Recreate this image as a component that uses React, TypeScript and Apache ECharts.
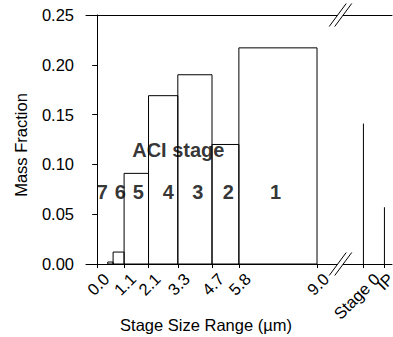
import React, { useEffect, useRef } from "react";
import * as echarts from "echarts";

// ACI impactor stages: cut-size range (µm) and collected mass fraction
const stageNames = ["7", "6", "5", "4", "3", "2", "1"];
const stageLower = [0.43, 0.65, 1.1, 2.1, 3.3, 4.7, 5.8];
const stageUpper = [0.65, 1.1, 2.1, 3.3, 4.7, 5.8, 9.0];
const stageMass = [0.002, 0.012, 0.091, 0.169, 0.19, 0.12, 0.217];

// cut-size tick marks on the size axis
const cutTicks = [0.0, 1.1, 2.1, 3.3, 4.7, 5.8, 9.0];

// collectors beyond the axis break (no size range)
const extraNames = ["Stage 0", "IP"];
const extraMass = [0.141, 0.057];

// layout: where things sit on the size axis
const X_MIN = -0.46;
const X_MAX = 12.07;
const BREAK_AT = 9.95;
const extraSlots = [10.9, 11.76];
const cutLabelNudge = 0.12;
const extraLabelNudge = [0.3, 0.0];
const stageLabelX = [0.21, 0.94, 1.68, 2.91, 4.12, 5.37, 7.3];
const stageLabelY = 0.0726;
const headerPos = [3.32, 0.114];

const FONT = "'Liberation Sans', Arial, sans-serif";
const AXIS_FONT = 16.5;

export default function App() {
  const ref = useRef<HTMLDivElement | null>(null);

  useEffect(() => {
    document.body.style.margin = "0";
    if (!ref.current) return;
    const chart = echarts.init(ref.current, undefined, { renderer: "svg" });

    // bottom axis with ticks at `ticks`; labels drawn slightly up-along the slant
    const bottomAxis = (
      ticks: number[],
      nudge: number,
      texts: string[],
      withLine: boolean
    ) => {
      const labelAt = ticks.map((t) => t + nudge);
      return {
        type: "value",
        min: X_MIN,
        max: X_MAX,
        position: "bottom",
        splitLine: { show: false },
        axisLine: { show: withLine, onZero: false, lineStyle: { color: "#000", width: 1 } },
        axisTick: {
          show: true,
          length: 4,
          inside: false,
          customValues: ticks,
          lineStyle: { color: "#000" },
        },
        axisLabel: {
          show: true,
          rotate: 45,
          margin: 6,
          align: "right",
          verticalAlign: "top",
          hideOverlap: false,
          fontSize: AXIS_FONT,
          color: "#000",
          fontFamily: FONT,
          customValues: labelAt,
          formatter: (v: number) => {
            const k = labelAt.findIndex((s) => Math.abs(s - v) < 1e-6);
            return k >= 0 ? texts[k] : "";
          },
        },
      };
    };

    const option: any = {
      animation: false,
      textStyle: { fontFamily: FONT, color: "#000" },
      grid: {
        left: 86,
        top: 15,
        right: 1,
        bottom: 73,
        containLabel: false,
        outerBoundsMode: "none",
      },
      xAxis: [
        bottomAxis(cutTicks, cutLabelNudge, cutTicks.map((t) => t.toFixed(1)), true),
        bottomAxis([extraSlots[0]], extraLabelNudge[0], [extraNames[0]], false),
        bottomAxis([extraSlots[1]], extraLabelNudge[1], [extraNames[1]], false),
        {
          type: "value",
          min: X_MIN,
          max: X_MAX,
          position: "top",
          splitLine: { show: false },
          axisLine: { show: true, onZero: false, lineStyle: { color: "#000", width: 1 } },
          axisTick: { show: false },
          axisLabel: { show: false },
        },
      ],
      yAxis: {
        type: "value",
        min: 0,
        max: 0.25,
        interval: 0.05,
        splitLine: { show: false },
        axisLine: { show: true, lineStyle: { color: "#000", width: 1 } },
        axisTick: { show: true, length: 5, lineStyle: { color: "#000" } },
        axisLabel: {
          fontSize: AXIS_FONT,
          margin: 12,
          color: "#000",
          fontFamily: FONT,
          formatter: (v: number) => v.toFixed(2),
        },
      },
      series: [
        {
          type: "custom",
          name: "ACI stages",
          silent: true,
          encode: { x: [0, 1], y: 2 },
          data: stageLower.map((lo, i) => [lo, stageUpper[i], stageMass[i]]),
          renderItem: (_params: any, api: any) => {
            const p0 = api.coord([api.value(0), api.value(2)]);
            const p1 = api.coord([api.value(1), 0]);
            return {
              type: "rect",
              shape: { x: p0[0], y: p0[1], width: p1[0] - p0[0], height: p1[1] - p0[1] },
              style: { fill: "none", stroke: "#000", lineWidth: 1 },
            };
          },
        },
        {
          type: "custom",
          name: "Other collectors",
          silent: true,
          encode: { x: 0, y: 1 },
          data: extraSlots.map((s, i) => [s, extraMass[i]]),
          renderItem: (_params: any, api: any) => {
            const top = api.coord([api.value(0), api.value(1)]);
            const base = api.coord([api.value(0), 0]);
            return {
              type: "line",
              shape: { x1: base[0], y1: base[1], x2: top[0], y2: top[1] },
              style: { stroke: "#000", lineWidth: 1 },
            };
          },
        },
        {
          type: "scatter",
          name: "Stage labels",
          silent: true,
          symbolSize: 1,
          itemStyle: { color: "transparent" },
          data: [
            ...stageLabelX.map((x, i) => ({ value: [x, stageLabelY], name: stageNames[i] })),
            { value: headerPos, name: "ACI stage" },
          ],
          label: {
            show: true,
            position: "inside",
            formatter: "{b}",
            fontSize: 20,
            fontWeight: "bold",
            color: "#000",
            fontFamily: FONT,
          },
        },
      ],
      graphic: [
        {
          type: "text",
          x: 21,
          y: 145,
          rotation: Math.PI / 2,
          style: {
            text: "Mass Fraction",
            fontSize: AXIS_FONT,
            fontFamily: FONT,
            fill: "#000",
            align: "center",
            verticalAlign: "middle",
          },
        },
        {
          type: "text",
          x: 206,
          y: 325,
          style: {
            text: "Stage Size Range (µm)",
            fontSize: AXIS_FONT,
            fontFamily: FONT,
            fill: "#000",
            align: "center",
            verticalAlign: "middle",
          },
        },
      ],
    };

    chart.setOption(option);

    // axis-break marks on the top and bottom frame lines
    const topPt = chart.convertToPixel({ gridIndex: 0 }, [BREAK_AT, 0.25]) as number[];
    const botPt = chart.convertToPixel({ gridIndex: 0 }, [BREAK_AT, 0]) as number[];
    const breakMark = (cx: number, cy: number) => [
      {
        type: "polygon",
        z: 100,
        shape: {
          points: [
            [cx - 11, cy + 11.5],
            [cx + 6, cy - 11.5],
            [cx + 11.5, cy - 11.5],
            [cx - 5.5, cy + 11.5],
          ],
        },
        style: { fill: "#fff", stroke: "none" },
      },
      {
        type: "line",
        z: 101,
        shape: { x1: cx - 11, y1: cy + 11.5, x2: cx + 6, y2: cy - 11.5 },
        style: { stroke: "#000", lineWidth: 1 },
      },
      {
        type: "line",
        z: 101,
        shape: { x1: cx - 5.5, y1: cy + 11.5, x2: cx + 11.5, y2: cy - 11.5 },
        style: { stroke: "#000", lineWidth: 1 },
      },
    ];
    chart.setOption({
      graphic: [
        ...option.graphic,
        ...breakMark(topPt[0], topPt[1]),
        ...breakMark(botPt[0], botPt[1]),
      ],
    });

    return () => chart.dispose();
  }, []);

  return <div ref={ref} style={{ width: 393, height: 337 }} />;
}
